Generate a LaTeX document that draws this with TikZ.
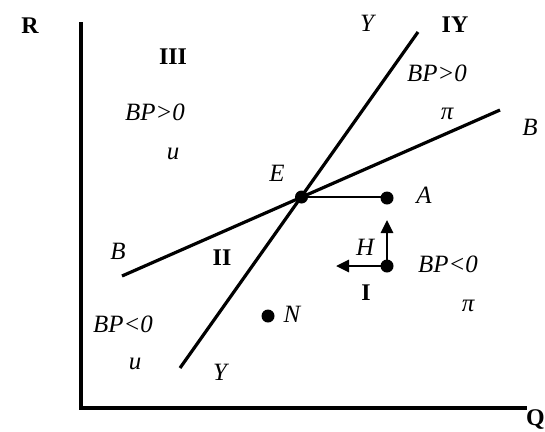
\documentclass[tikz,border=0pt]{standalone}
\usepackage{fontspec}
\setmainfont{Liberation Serif}
\usetikzlibrary{arrows.meta}
\begin{document}
\begin{tikzpicture}[x=1bp,y=-1bp,
  lbl/.style={font=\itshape\fontsize{25}{27}\selectfont, inner sep=0},
  rom/.style={font=\bfseries\fontsize{24}{26}\selectfont, inner sep=0},
  curve/.style={line width=3.2bp},
  axis/.style={line width=3.6bp},
  dot/.style={circle, fill, inner sep=0, minimum size=13bp},
  arr/.style={-{Triangle[length=13bp,width=12bp]}, line width=2.8bp},
]
\useasboundingbox (0,0) rectangle (545,431);
% axes
\coordinate (Rtop) at (81,22);
\coordinate (O) at (81,408);
\coordinate (Qend) at (527,408);
\draw[axis] (Rtop) -- (O) -- (Qend);
\node[rom] (R) at (30,26) {R};
\node[rom, anchor=east] (Q) at (545,420) {Q};
% curves
\coordinate (Y1) at (180,368);
\coordinate (Y2) at (418,32);
\coordinate (B1) at (122,276);
\coordinate (B2) at (500,110);
\draw[curve] (Y1) -- (Y2);
\draw[curve] (B1) -- (B2);
% points
\node[dot] (E) at (301.5,197) {};
\node[dot] (A) at (387,198) {};
\node[dot] (P) at (387,266) {};
\node[dot] (N) at (268,316) {};
\coordinate (Ht) at (387,220);
\coordinate (It) at (336,266);
\draw[line width=2bp] (E.center) -- (E.center -| A.center) -- (A.center);
\draw[arr] (P.center) -- (Ht);
\draw[arr] (P.center) -- (It);
% labels
\node[lbl] (lE) at (277,173) {E};
\node[lbl] (lA) at (424,195) {A};
\node[lbl] (lH) at (365,247) {H};
\node[lbl] (lBPa) at (448,264) {BP<0};
\node[rom] (lI) at (366,293) {I};
\node[lbl] (lpia) at (468,306) {π};
\node[lbl] (lN) at (292,314) {N};
\node[lbl] (lBl) at (118,251) {B};
\node[rom] (lII) at (222,258) {II};
\node[lbl] (lBPb) at (123,324) {BP<0};
\node[lbl] (lub) at (135,364) {u};
\node[lbl] (lYb) at (220,372) {Y};
\node[lbl] (lYt) at (367,23) {Y};
\node[rom] (lIY) at (455,25) {IY};
\node[lbl] (lBPc) at (437,73) {BP>0};
\node[lbl] (lpib) at (447,114) {π};
\node[lbl] (lBr) at (530,127) {B};
\node[rom] (lIII) at (173,57) {III};
\node[lbl] (lBPd) at (155,112) {BP>0};
\node[lbl] (lut) at (173,154) {u};
\end{tikzpicture}
\end{document}
